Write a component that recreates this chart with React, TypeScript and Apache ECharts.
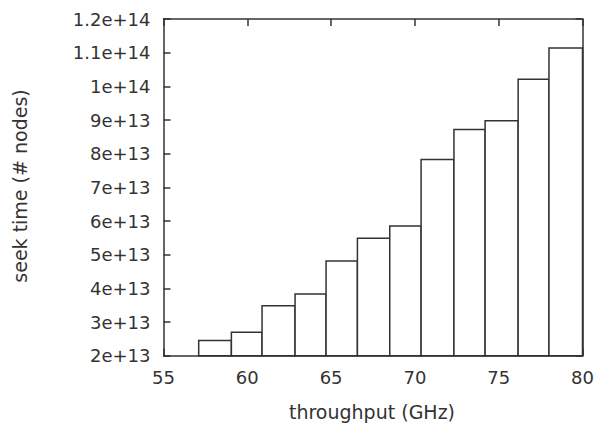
import React, { useEffect, useRef } from "react";
import * as echarts from "echarts";

// Histogram bin edges (throughput, GHz) and bar heights (seek time)
const binEdges: number[] = [57.1, 59.05, 60.88, 62.85, 64.7, 66.57, 68.5, 70.37, 72.33, 74.19, 76.16, 78.0, 80];
const seekTimes: number[] = [2.45e13, 2.70e13, 3.48e13, 3.83e13, 4.81e13, 5.49e13, 5.85e13, 7.83e13, 8.72e13, 8.98e13, 1.021e14, 1.114e14];

const X_MIN = 55;
const X_MAX = 80;
const X_STEP = 5;
const Y_MIN = 2e13;
const Y_MAX = 1.2e14;
const Y_STEP = 1e13;

const xTitle = "throughput (GHz)";
const yTitle = "seek time (# nodes)";

const INK = "#333333";
const FONT = "DejaVu Sans";
const FS = 18;
const FS_TITLE = 19;

function fmtY(v: number): string {
  return v.toExponential();
}

export default function App() {
  const ref = useRef<HTMLDivElement>(null);
  useEffect(() => {
    if (!ref.current) return;
    const chart = echarts.init(ref.current, undefined, { renderer: "svg" });
    const data = seekTimes.map((v, i) => [binEdges[i], binEdges[i + 1], v]);
    const axisLine = { show: true, lineStyle: { color: INK, width: 1.5 } };
    const tick = { show: true, inside: true, length: 7, lineStyle: { color: INK, width: 1.5 } };
    const option: any = {
      animation: false,
      backgroundColor: "#ffffff",
      grid: { left: 163.5, right: 17.5, top: 19, bottom: 67.3, containLabel: false },
      xAxis: [
        {
          type: "value", position: "bottom", min: X_MIN, max: X_MAX, interval: X_STEP,
          axisLine, axisTick: tick, splitLine: { show: false },
          axisLabel: { color: INK, fontFamily: FONT, fontSize: FS, margin: 13 },
        },
        {
          type: "value", position: "top", min: X_MIN, max: X_MAX, interval: X_STEP,
          axisLine, axisTick: tick, splitLine: { show: false }, axisLabel: { show: false },
        },
      ],
      yAxis: [
        {
          type: "value", position: "left", min: Y_MIN, max: Y_MAX, interval: Y_STEP,
          axisLine, axisTick: tick, splitLine: { show: false },
          axisLabel: { color: INK, fontFamily: FONT, fontSize: FS, margin: 13, formatter: fmtY },
        },
        {
          type: "value", position: "right", min: Y_MIN, max: Y_MAX, interval: Y_STEP,
          axisLine, axisTick: tick, splitLine: { show: false }, axisLabel: { show: false },
        },
      ],
      series: [
        {
          type: "custom",
          xAxisIndex: 0,
          yAxisIndex: 0,
          data,
          renderItem: (params: any, api: any) => {
            const x0 = api.value(0);
            const x1 = api.value(1);
            const y = api.value(2);
            const p0 = api.coord([x0, y]);
            const p1 = api.coord([x1, Y_MIN]);
            return {
              type: "rect",
              shape: { x: p0[0], y: p0[1], width: p1[0] - p0[0], height: p1[1] - p0[1] },
              style: { fill: "#ffffff", stroke: INK, lineWidth: 1.5 },
            };
          },
        },
      ],
      graphic: [
        {
          type: "text", x: 372, y: 412,
          style: { text: xTitle, fill: INK, font: `${FS_TITLE}px "${FONT}"`, align: "center", verticalAlign: "middle" },
        },
        {
          type: "text", x: 20, y: 186, rotation: Math.PI / 2,
          style: { text: yTitle, fill: INK, font: `${FS_TITLE}px "${FONT}"`, align: "center", verticalAlign: "middle" },
        },
      ],
    };
    chart.setOption(option);
    return () => chart.dispose();
  }, []);
  return (
    <div
      ref={ref}
      style={{ position: "fixed", left: 0, top: 0, width: 600, height: 423, background: "#fff" }}
    />
  );
}
